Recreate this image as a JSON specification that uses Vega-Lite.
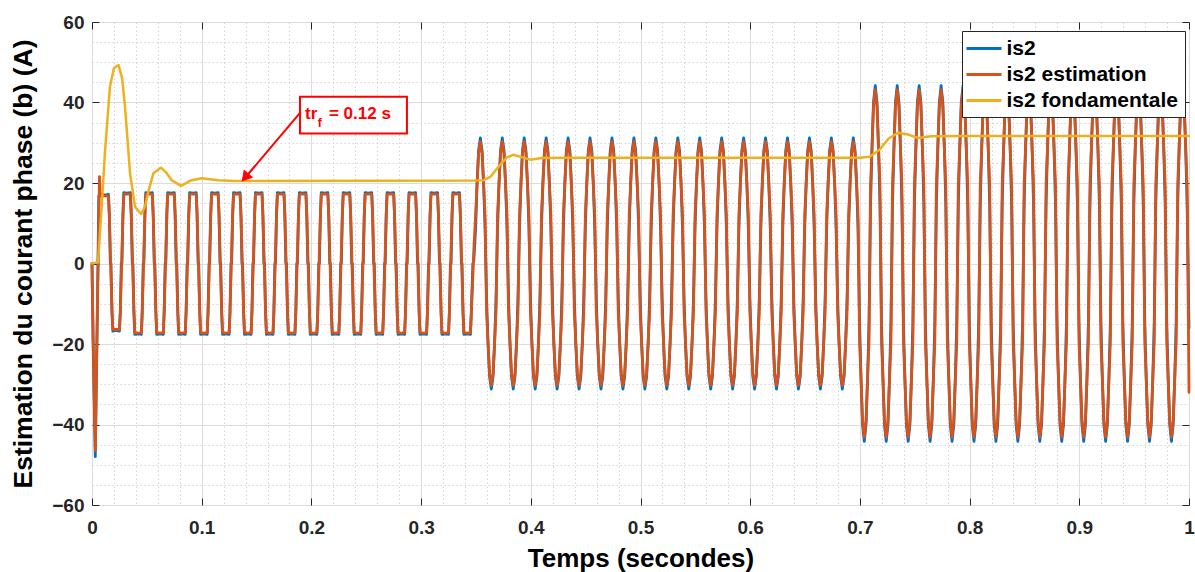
{
"$schema":"https://vega.github.io/schema/vega-lite/v6.json",
"width":1097,"height":483,
"autosize":{"type":"none"},
"padding":{"left":92,"top":22,"right":6,"bottom":67},
"background":"white",
"config":{
 "font":"Liberation Sans",
 "view":{"stroke":"#404040","strokeWidth":1},
 "axis":{"labelFont":"Liberation Sans","titleFont":"Liberation Sans","labelFontWeight":"bold","titleFontWeight":"bold","labelColor":"#262626","titleColor":"#000000","tickColor":"#262626"},
 "legend":{"orient":"none","legendX":870,"legendY":9,"padding":6,"strokeColor":"#262626","fillColor":"white","symbolType":"M-1.75,0H1.75","symbolSize":400,"symbolOffset":4.5,"symbolStrokeWidth":3,"labelFont":"Liberation Sans","labelFontWeight":"bold","labelFontSize":21,"labelColor":"#000000","labelOffset":11,"rowPadding":4,"title":null,"labelLimit":400},
 "line":{"strokeJoin":"round","strokeCap":"round"}
},
"datasets":{
"w":[
{"t":0,"a":0,"b":0},{"t":0.001,"a":-20,"b":-18},{"t":0.003,"a":-48,"b":-46.5},{"t":0.0055,"a":0,"b":0},{"t":0.0062,"a":16.8,"b":10},{"t":0.0068,"a":17,"b":21.6},{"t":0.0076,"a":17.2,"b":16.8},
{"t":0.009,"a":17.2,"b":16.8},{"t":0.012,"a":17,"b":16.8},{"t":0.015,"a":17.2,"b":16.8},{"t":0.0158,"a":12,"b":12},{"t":0.0167,"a":0,"b":3},{"t":0.0173,"a":0,"b":-3},{"t":0.0182,"a":-12,"b":-12},{"t":0.019,"a":-16.8,"b":-16.4},{"t":0.022,"a":-16.6,"b":-16.4},{"t":0.025,"a":-16.8,"b":-16.4},{"t":0.0258,"a":-12,"b":-12},{"t":0.0267,"a":0,"b":-3},
{"t":0.0273,"a":0,"b":3},{"t":0.0282,"a":12,"b":12},{"t":0.029,"a":17.6,"b":17.2},{"t":0.032,"a":17.5,"b":17.3},{"t":0.035,"a":17.6,"b":17.2},{"t":0.0358,"a":12,"b":12},{"t":0.0367,"a":0,"b":3},{"t":0.0373,"a":0,"b":-3},{"t":0.0382,"a":-12,"b":-12},{"t":0.039,"a":-17.6,"b":-17.2},{"t":0.042,"a":-17.5,"b":-17.3},{"t":0.045,"a":-17.6,"b":-17.2},{"t":0.0458,"a":-12,"b":-12},{"t":0.0467,"a":0,"b":-3},
{"t":0.0473,"a":0,"b":3},{"t":0.0482,"a":12,"b":12},{"t":0.049,"a":17.6,"b":17.2},{"t":0.052,"a":17.5,"b":17.3},{"t":0.055,"a":17.6,"b":17.2},{"t":0.0558,"a":12,"b":12},{"t":0.0567,"a":0,"b":3},{"t":0.0573,"a":0,"b":-3},{"t":0.0582,"a":-12,"b":-12},{"t":0.059,"a":-17.6,"b":-17.2},{"t":0.062,"a":-17.5,"b":-17.3},{"t":0.065,"a":-17.6,"b":-17.2},{"t":0.0658,"a":-12,"b":-12},{"t":0.0667,"a":0,"b":-3},
{"t":0.0673,"a":0,"b":3},{"t":0.0682,"a":12,"b":12},{"t":0.069,"a":17.6,"b":17.2},{"t":0.072,"a":17.5,"b":17.3},{"t":0.075,"a":17.6,"b":17.2},{"t":0.0758,"a":12,"b":12},{"t":0.0767,"a":0,"b":3},{"t":0.0773,"a":0,"b":-3},{"t":0.0782,"a":-12,"b":-12},{"t":0.079,"a":-17.6,"b":-17.2},{"t":0.082,"a":-17.5,"b":-17.3},{"t":0.085,"a":-17.6,"b":-17.2},{"t":0.0858,"a":-12,"b":-12},{"t":0.0867,"a":0,"b":-3},
{"t":0.0873,"a":0,"b":3},{"t":0.0882,"a":12,"b":12},{"t":0.089,"a":17.6,"b":17.2},{"t":0.092,"a":17.5,"b":17.3},{"t":0.095,"a":17.6,"b":17.2},{"t":0.0958,"a":12,"b":12},{"t":0.0967,"a":0,"b":3},{"t":0.0973,"a":0,"b":-3},{"t":0.0982,"a":-12,"b":-12},{"t":0.099,"a":-17.6,"b":-17.2},{"t":0.102,"a":-17.5,"b":-17.3},{"t":0.105,"a":-17.6,"b":-17.2},{"t":0.1058,"a":-12,"b":-12},{"t":0.1067,"a":0,"b":-3},
{"t":0.1073,"a":0,"b":3},{"t":0.1082,"a":12,"b":12},{"t":0.109,"a":17.6,"b":17.2},{"t":0.112,"a":17.5,"b":17.3},{"t":0.115,"a":17.6,"b":17.2},{"t":0.1158,"a":12,"b":12},{"t":0.1167,"a":0,"b":3},{"t":0.1173,"a":0,"b":-3},{"t":0.1182,"a":-12,"b":-12},{"t":0.119,"a":-17.6,"b":-17.2},{"t":0.122,"a":-17.5,"b":-17.3},{"t":0.125,"a":-17.6,"b":-17.2},{"t":0.1258,"a":-12,"b":-12},{"t":0.1267,"a":0,"b":-3},
{"t":0.1273,"a":0,"b":3},{"t":0.1282,"a":12,"b":12},{"t":0.129,"a":17.6,"b":17.2},{"t":0.132,"a":17.5,"b":17.3},{"t":0.135,"a":17.6,"b":17.2},{"t":0.1358,"a":12,"b":12},{"t":0.1367,"a":0,"b":3},{"t":0.1373,"a":0,"b":-3},{"t":0.1382,"a":-12,"b":-12},{"t":0.139,"a":-17.6,"b":-17.2},{"t":0.142,"a":-17.5,"b":-17.3},{"t":0.145,"a":-17.6,"b":-17.2},{"t":0.1458,"a":-12,"b":-12},{"t":0.1467,"a":0,"b":-3},
{"t":0.1473,"a":0,"b":3},{"t":0.1482,"a":12,"b":12},{"t":0.149,"a":17.6,"b":17.2},{"t":0.152,"a":17.5,"b":17.3},{"t":0.155,"a":17.6,"b":17.2},{"t":0.1558,"a":12,"b":12},{"t":0.1567,"a":0,"b":3},{"t":0.1573,"a":0,"b":-3},{"t":0.1582,"a":-12,"b":-12},{"t":0.159,"a":-17.6,"b":-17.2},{"t":0.162,"a":-17.5,"b":-17.3},{"t":0.165,"a":-17.6,"b":-17.2},{"t":0.1658,"a":-12,"b":-12},{"t":0.1667,"a":0,"b":-3},
{"t":0.1673,"a":0,"b":3},{"t":0.1682,"a":12,"b":12},{"t":0.169,"a":17.6,"b":17.2},{"t":0.172,"a":17.5,"b":17.3},{"t":0.175,"a":17.6,"b":17.2},{"t":0.1758,"a":12,"b":12},{"t":0.1767,"a":0,"b":3},{"t":0.1773,"a":0,"b":-3},{"t":0.1782,"a":-12,"b":-12},{"t":0.179,"a":-17.6,"b":-17.2},{"t":0.182,"a":-17.5,"b":-17.3},{"t":0.185,"a":-17.6,"b":-17.2},{"t":0.1858,"a":-12,"b":-12},{"t":0.1867,"a":0,"b":-3},
{"t":0.1873,"a":0,"b":3},{"t":0.1882,"a":12,"b":12},{"t":0.189,"a":17.6,"b":17.2},{"t":0.192,"a":17.5,"b":17.3},{"t":0.195,"a":17.6,"b":17.2},{"t":0.1958,"a":12,"b":12},{"t":0.1967,"a":0,"b":3},{"t":0.1973,"a":0,"b":-3},{"t":0.1982,"a":-12,"b":-12},{"t":0.199,"a":-17.6,"b":-17.2},{"t":0.202,"a":-17.5,"b":-17.3},{"t":0.205,"a":-17.6,"b":-17.2},{"t":0.2058,"a":-12,"b":-12},{"t":0.2067,"a":0,"b":-3},
{"t":0.2073,"a":0,"b":3},{"t":0.2082,"a":12,"b":12},{"t":0.209,"a":17.6,"b":17.2},{"t":0.212,"a":17.5,"b":17.3},{"t":0.215,"a":17.6,"b":17.2},{"t":0.2158,"a":12,"b":12},{"t":0.2167,"a":0,"b":3},{"t":0.2173,"a":0,"b":-3},{"t":0.2182,"a":-12,"b":-12},{"t":0.219,"a":-17.6,"b":-17.2},{"t":0.222,"a":-17.5,"b":-17.3},{"t":0.225,"a":-17.6,"b":-17.2},{"t":0.2258,"a":-12,"b":-12},{"t":0.2267,"a":0,"b":-3},
{"t":0.2273,"a":0,"b":3},{"t":0.2282,"a":12,"b":12},{"t":0.229,"a":17.6,"b":17.2},{"t":0.232,"a":17.5,"b":17.3},{"t":0.235,"a":17.6,"b":17.2},{"t":0.2358,"a":12,"b":12},{"t":0.2367,"a":0,"b":3},{"t":0.2373,"a":0,"b":-3},{"t":0.2382,"a":-12,"b":-12},{"t":0.239,"a":-17.6,"b":-17.2},{"t":0.242,"a":-17.5,"b":-17.3},{"t":0.245,"a":-17.6,"b":-17.2},{"t":0.2458,"a":-12,"b":-12},{"t":0.2467,"a":0,"b":-3},
{"t":0.2473,"a":0,"b":3},{"t":0.2482,"a":12,"b":12},{"t":0.249,"a":17.6,"b":17.2},{"t":0.252,"a":17.5,"b":17.3},{"t":0.255,"a":17.6,"b":17.2},{"t":0.2558,"a":12,"b":12},{"t":0.2567,"a":0,"b":3},{"t":0.2573,"a":0,"b":-3},{"t":0.2582,"a":-12,"b":-12},{"t":0.259,"a":-17.6,"b":-17.2},{"t":0.262,"a":-17.5,"b":-17.3},{"t":0.265,"a":-17.6,"b":-17.2},{"t":0.2658,"a":-12,"b":-12},{"t":0.2667,"a":0,"b":-3},
{"t":0.2673,"a":0,"b":3},{"t":0.2682,"a":12,"b":12},{"t":0.269,"a":17.6,"b":17.2},{"t":0.272,"a":17.5,"b":17.3},{"t":0.275,"a":17.6,"b":17.2},{"t":0.2758,"a":12,"b":12},{"t":0.2767,"a":0,"b":3},{"t":0.2773,"a":0,"b":-3},{"t":0.2782,"a":-12,"b":-12},{"t":0.279,"a":-17.6,"b":-17.2},{"t":0.282,"a":-17.5,"b":-17.3},{"t":0.285,"a":-17.6,"b":-17.2},{"t":0.2858,"a":-12,"b":-12},{"t":0.2867,"a":0,"b":-3},
{"t":0.2873,"a":0,"b":3},{"t":0.2882,"a":12,"b":12},{"t":0.289,"a":17.6,"b":17.2},{"t":0.292,"a":17.5,"b":17.3},{"t":0.295,"a":17.6,"b":17.2},{"t":0.2958,"a":12,"b":12},{"t":0.2967,"a":0,"b":3},{"t":0.2973,"a":0,"b":-3},{"t":0.2982,"a":-12,"b":-12},{"t":0.299,"a":-17.6,"b":-17.2},{"t":0.302,"a":-17.5,"b":-17.3},{"t":0.305,"a":-17.6,"b":-17.2},{"t":0.3058,"a":-12,"b":-12},{"t":0.3067,"a":0,"b":-3},
{"t":0.3073,"a":0,"b":3},{"t":0.3082,"a":12,"b":12},{"t":0.309,"a":17.6,"b":17.2},{"t":0.312,"a":17.5,"b":17.3},{"t":0.315,"a":17.6,"b":17.2},{"t":0.3158,"a":12,"b":12},{"t":0.3167,"a":0,"b":3},{"t":0.3173,"a":0,"b":-3},{"t":0.3182,"a":-12,"b":-12},{"t":0.319,"a":-17.6,"b":-17.2},{"t":0.322,"a":-17.5,"b":-17.3},{"t":0.325,"a":-17.6,"b":-17.2},{"t":0.3258,"a":-12,"b":-12},{"t":0.3267,"a":0,"b":-3},
{"t":0.3273,"a":0,"b":3},{"t":0.3282,"a":12,"b":12},{"t":0.329,"a":17.6,"b":17.2},{"t":0.332,"a":17.5,"b":17.3},{"t":0.335,"a":17.6,"b":17.2},{"t":0.3358,"a":12,"b":12},{"t":0.3367,"a":0,"b":3},{"t":0.3373,"a":0,"b":-3},{"t":0.3382,"a":-12,"b":-12},{"t":0.339,"a":-17.6,"b":-17.2},{"t":0.342,"a":-17.5,"b":-17.3},{"t":0.345,"a":-17.6,"b":-17.2},{"t":0.3458,"a":-12,"b":-12},{"t":0.3472,"a":0,"b":-3},{"t":0.348,"a":0.5,"b":3},
{"t":0.3497,"a":8.7,"b":12.1},{"t":0.351,"a":19.8,"b":19.5},{"t":0.3524,"a":28,"b":27.3},{"t":0.354,"a":31.2,"b":30.3},
{"t":0.3556,"a":28,"b":27.3},{"t":0.357,"a":19.8,"b":19.5},{"t":0.3583,"a":8.7,"b":12.1},{"t":0.3597,"a":-8.7,"b":-12.1},{"t":0.361,"a":-19.8,"b":-19.5},{"t":0.3624,"a":-28,"b":-27.3},{"t":0.364,"a":-31.2,"b":-30.3},{"t":0.3656,"a":-28,"b":-27.3},{"t":0.367,"a":-19.8,"b":-19.5},{"t":0.3683,"a":-8.7,"b":-12.1},{"t":0.3697,"a":8.7,"b":12.1},{"t":0.371,"a":19.8,"b":19.5},{"t":0.3724,"a":28,"b":27.3},{"t":0.374,"a":31.2,"b":30.3},
{"t":0.3756,"a":28,"b":27.3},{"t":0.377,"a":19.8,"b":19.5},{"t":0.3783,"a":8.7,"b":12.1},{"t":0.3797,"a":-8.7,"b":-12.1},{"t":0.381,"a":-19.8,"b":-19.5},{"t":0.3824,"a":-28,"b":-27.3},{"t":0.384,"a":-31.2,"b":-30.3},{"t":0.3856,"a":-28,"b":-27.3},{"t":0.387,"a":-19.8,"b":-19.5},{"t":0.3883,"a":-8.7,"b":-12.1},{"t":0.3897,"a":8.7,"b":12.1},{"t":0.391,"a":19.8,"b":19.5},{"t":0.3924,"a":28,"b":27.3},{"t":0.394,"a":31.2,"b":30.3},
{"t":0.3956,"a":28,"b":27.3},{"t":0.397,"a":19.8,"b":19.5},{"t":0.3983,"a":8.7,"b":12.1},{"t":0.3997,"a":-8.7,"b":-12.1},{"t":0.401,"a":-19.8,"b":-19.5},{"t":0.4024,"a":-28,"b":-27.3},{"t":0.404,"a":-31.2,"b":-30.3},{"t":0.4056,"a":-28,"b":-27.3},{"t":0.407,"a":-19.8,"b":-19.5},{"t":0.4083,"a":-8.7,"b":-12.1},{"t":0.4097,"a":8.7,"b":12.1},{"t":0.411,"a":19.8,"b":19.5},{"t":0.4124,"a":28,"b":27.3},{"t":0.414,"a":31.2,"b":30.3},
{"t":0.4156,"a":28,"b":27.3},{"t":0.417,"a":19.8,"b":19.5},{"t":0.4183,"a":8.7,"b":12.1},{"t":0.4197,"a":-8.7,"b":-12.1},{"t":0.421,"a":-19.8,"b":-19.5},{"t":0.4224,"a":-28,"b":-27.3},{"t":0.424,"a":-31.2,"b":-30.3},{"t":0.4256,"a":-28,"b":-27.3},{"t":0.427,"a":-19.8,"b":-19.5},{"t":0.4283,"a":-8.7,"b":-12.1},{"t":0.4297,"a":8.7,"b":12.1},{"t":0.431,"a":19.8,"b":19.5},{"t":0.4324,"a":28,"b":27.3},{"t":0.434,"a":31.2,"b":30.3},
{"t":0.4356,"a":28,"b":27.3},{"t":0.437,"a":19.8,"b":19.5},{"t":0.4383,"a":8.7,"b":12.1},{"t":0.4397,"a":-8.7,"b":-12.1},{"t":0.441,"a":-19.8,"b":-19.5},{"t":0.4424,"a":-28,"b":-27.3},{"t":0.444,"a":-31.2,"b":-30.3},{"t":0.4456,"a":-28,"b":-27.3},{"t":0.447,"a":-19.8,"b":-19.5},{"t":0.4483,"a":-8.7,"b":-12.1},{"t":0.4497,"a":8.7,"b":12.1},{"t":0.451,"a":19.8,"b":19.5},{"t":0.4524,"a":28,"b":27.3},{"t":0.454,"a":31.2,"b":30.3},
{"t":0.4556,"a":28,"b":27.3},{"t":0.457,"a":19.8,"b":19.5},{"t":0.4583,"a":8.7,"b":12.1},{"t":0.4597,"a":-8.7,"b":-12.1},{"t":0.461,"a":-19.8,"b":-19.5},{"t":0.4624,"a":-28,"b":-27.3},{"t":0.464,"a":-31.2,"b":-30.3},{"t":0.4656,"a":-28,"b":-27.3},{"t":0.467,"a":-19.8,"b":-19.5},{"t":0.4683,"a":-8.7,"b":-12.1},{"t":0.4697,"a":8.7,"b":12.1},{"t":0.471,"a":19.8,"b":19.5},{"t":0.4724,"a":28,"b":27.3},{"t":0.474,"a":31.2,"b":30.3},
{"t":0.4756,"a":28,"b":27.3},{"t":0.477,"a":19.8,"b":19.5},{"t":0.4783,"a":8.7,"b":12.1},{"t":0.4797,"a":-8.7,"b":-12.1},{"t":0.481,"a":-19.8,"b":-19.5},{"t":0.4824,"a":-28,"b":-27.3},{"t":0.484,"a":-31.2,"b":-30.3},{"t":0.4856,"a":-28,"b":-27.3},{"t":0.487,"a":-19.8,"b":-19.5},{"t":0.4883,"a":-8.7,"b":-12.1},{"t":0.4897,"a":8.7,"b":12.1},{"t":0.491,"a":19.8,"b":19.5},{"t":0.4924,"a":28,"b":27.3},{"t":0.494,"a":31.2,"b":30.3},
{"t":0.4956,"a":28,"b":27.3},{"t":0.497,"a":19.8,"b":19.5},{"t":0.4983,"a":8.7,"b":12.1},{"t":0.4997,"a":-8.7,"b":-12.1},{"t":0.501,"a":-19.8,"b":-19.5},{"t":0.5024,"a":-28,"b":-27.3},{"t":0.504,"a":-31.2,"b":-30.3},{"t":0.5056,"a":-28,"b":-27.3},{"t":0.507,"a":-19.8,"b":-19.5},{"t":0.5083,"a":-8.7,"b":-12.1},{"t":0.5097,"a":8.7,"b":12.1},{"t":0.511,"a":19.8,"b":19.5},{"t":0.5124,"a":28,"b":27.3},{"t":0.514,"a":31.2,"b":30.3},
{"t":0.5156,"a":28,"b":27.3},{"t":0.517,"a":19.8,"b":19.5},{"t":0.5183,"a":8.7,"b":12.1},{"t":0.5197,"a":-8.7,"b":-12.1},{"t":0.521,"a":-19.8,"b":-19.5},{"t":0.5224,"a":-28,"b":-27.3},{"t":0.524,"a":-31.2,"b":-30.3},{"t":0.5256,"a":-28,"b":-27.3},{"t":0.527,"a":-19.8,"b":-19.5},{"t":0.5283,"a":-8.7,"b":-12.1},{"t":0.5297,"a":8.7,"b":12.1},{"t":0.531,"a":19.8,"b":19.5},{"t":0.5324,"a":28,"b":27.3},{"t":0.534,"a":31.2,"b":30.3},
{"t":0.5356,"a":28,"b":27.3},{"t":0.537,"a":19.8,"b":19.5},{"t":0.5383,"a":8.7,"b":12.1},{"t":0.5397,"a":-8.7,"b":-12.1},{"t":0.541,"a":-19.8,"b":-19.5},{"t":0.5424,"a":-28,"b":-27.3},{"t":0.544,"a":-31.2,"b":-30.3},{"t":0.5456,"a":-28,"b":-27.3},{"t":0.547,"a":-19.8,"b":-19.5},{"t":0.5483,"a":-8.7,"b":-12.1},{"t":0.5497,"a":8.7,"b":12.1},{"t":0.551,"a":19.8,"b":19.5},{"t":0.5524,"a":28,"b":27.3},{"t":0.554,"a":31.2,"b":30.3},
{"t":0.5556,"a":28,"b":27.3},{"t":0.557,"a":19.8,"b":19.5},{"t":0.5583,"a":8.7,"b":12.1},{"t":0.5597,"a":-8.7,"b":-12.1},{"t":0.561,"a":-19.8,"b":-19.5},{"t":0.5624,"a":-28,"b":-27.3},{"t":0.564,"a":-31.2,"b":-30.3},{"t":0.5656,"a":-28,"b":-27.3},{"t":0.567,"a":-19.8,"b":-19.5},{"t":0.5683,"a":-8.7,"b":-12.1},{"t":0.5697,"a":8.7,"b":12.1},{"t":0.571,"a":19.8,"b":19.5},{"t":0.5724,"a":28,"b":27.3},{"t":0.574,"a":31.2,"b":30.3},
{"t":0.5756,"a":28,"b":27.3},{"t":0.577,"a":19.8,"b":19.5},{"t":0.5783,"a":8.7,"b":12.1},{"t":0.5797,"a":-8.7,"b":-12.1},{"t":0.581,"a":-19.8,"b":-19.5},{"t":0.5824,"a":-28,"b":-27.3},{"t":0.584,"a":-31.2,"b":-30.3},{"t":0.5856,"a":-28,"b":-27.3},{"t":0.587,"a":-19.8,"b":-19.5},{"t":0.5883,"a":-8.7,"b":-12.1},{"t":0.5897,"a":8.7,"b":12.1},{"t":0.591,"a":19.8,"b":19.5},{"t":0.5924,"a":28,"b":27.3},{"t":0.594,"a":31.2,"b":30.3},
{"t":0.5956,"a":28,"b":27.3},{"t":0.597,"a":19.8,"b":19.5},{"t":0.5983,"a":8.7,"b":12.1},{"t":0.5997,"a":-8.7,"b":-12.1},{"t":0.601,"a":-19.8,"b":-19.5},{"t":0.6024,"a":-28,"b":-27.3},{"t":0.604,"a":-31.2,"b":-30.3},{"t":0.6056,"a":-28,"b":-27.3},{"t":0.607,"a":-19.8,"b":-19.5},{"t":0.6083,"a":-8.7,"b":-12.1},{"t":0.6097,"a":8.7,"b":12.1},{"t":0.611,"a":19.8,"b":19.5},{"t":0.6124,"a":28,"b":27.3},{"t":0.614,"a":31.2,"b":30.3},
{"t":0.6156,"a":28,"b":27.3},{"t":0.617,"a":19.8,"b":19.5},{"t":0.6183,"a":8.7,"b":12.1},{"t":0.6197,"a":-8.7,"b":-12.1},{"t":0.621,"a":-19.8,"b":-19.5},{"t":0.6224,"a":-28,"b":-27.3},{"t":0.624,"a":-31.2,"b":-30.3},{"t":0.6256,"a":-28,"b":-27.3},{"t":0.627,"a":-19.8,"b":-19.5},{"t":0.6283,"a":-8.7,"b":-12.1},{"t":0.6297,"a":8.7,"b":12.1},{"t":0.631,"a":19.8,"b":19.5},{"t":0.6324,"a":28,"b":27.3},{"t":0.634,"a":31.2,"b":30.3},
{"t":0.6356,"a":28,"b":27.3},{"t":0.637,"a":19.8,"b":19.5},{"t":0.6383,"a":8.7,"b":12.1},{"t":0.6397,"a":-8.7,"b":-12.1},{"t":0.641,"a":-19.8,"b":-19.5},{"t":0.6424,"a":-28,"b":-27.3},{"t":0.644,"a":-31.2,"b":-30.3},{"t":0.6456,"a":-28,"b":-27.3},{"t":0.647,"a":-19.8,"b":-19.5},{"t":0.6483,"a":-8.7,"b":-12.1},{"t":0.6497,"a":8.7,"b":12.1},{"t":0.651,"a":19.8,"b":19.5},{"t":0.6524,"a":28,"b":27.3},{"t":0.654,"a":31.2,"b":30.3},
{"t":0.6556,"a":28,"b":27.3},{"t":0.657,"a":19.8,"b":19.5},{"t":0.6583,"a":8.7,"b":12.1},{"t":0.6597,"a":-8.7,"b":-12.1},{"t":0.661,"a":-19.8,"b":-19.5},{"t":0.6624,"a":-28,"b":-27.3},{"t":0.664,"a":-31.2,"b":-30.3},{"t":0.6656,"a":-28,"b":-27.3},{"t":0.667,"a":-19.8,"b":-19.5},{"t":0.6683,"a":-8.7,"b":-12.1},{"t":0.6697,"a":8.7,"b":12.1},{"t":0.671,"a":19.8,"b":19.5},{"t":0.6724,"a":28,"b":27.3},{"t":0.674,"a":31.2,"b":30.3},
{"t":0.6756,"a":28,"b":27.3},{"t":0.677,"a":19.8,"b":19.5},{"t":0.6783,"a":8.7,"b":12.1},{"t":0.6797,"a":-8.7,"b":-12.1},{"t":0.681,"a":-19.8,"b":-19.5},{"t":0.6824,"a":-28,"b":-27.3},{"t":0.684,"a":-31.2,"b":-30.3},{"t":0.6856,"a":-28,"b":-27.3},{"t":0.687,"a":-19.8,"b":-19.5},{"t":0.6883,"a":-8.7,"b":-12.1},{"t":0.6897,"a":8.7,"b":12.1},{"t":0.691,"a":19.8,"b":19.5},{"t":0.6924,"a":28,"b":27.3},{"t":0.694,"a":31.2,"b":30.3},
{"t":0.6956,"a":28,"b":27.3},{"t":0.697,"a":19.8,"b":19.5},{"t":0.6983,"a":8.7,"b":12.1},
{"t":0.6997,"a":-14.5,"b":-19.5},{"t":0.701,"a":-28.5,"b":-28.5},{"t":0.7024,"a":-40,"b":-39},{"t":0.704,"a":-44.2,"b":-43.2},
{"t":0.7056,"a":-40,"b":-39},{"t":0.707,"a":-28.5,"b":-28.5},{"t":0.7083,"a":-14.5,"b":-19.5},{"t":0.7097,"a":14.5,"b":19.5},{"t":0.711,"a":28.5,"b":28.5},{"t":0.7124,"a":40,"b":39},{"t":0.714,"a":44.2,"b":43.2},{"t":0.7156,"a":40,"b":39},{"t":0.717,"a":28.5,"b":28.5},{"t":0.7183,"a":14.5,"b":19.5},{"t":0.7197,"a":-14.5,"b":-19.5},{"t":0.721,"a":-28.5,"b":-28.5},{"t":0.7224,"a":-40,"b":-39},{"t":0.724,"a":-44.2,"b":-43.2},
{"t":0.7256,"a":-40,"b":-39},{"t":0.727,"a":-28.5,"b":-28.5},{"t":0.7283,"a":-14.5,"b":-19.5},{"t":0.7297,"a":14.5,"b":19.5},{"t":0.731,"a":28.5,"b":28.5},{"t":0.7324,"a":40,"b":39},{"t":0.734,"a":44.2,"b":43.2},{"t":0.7356,"a":40,"b":39},{"t":0.737,"a":28.5,"b":28.5},{"t":0.7383,"a":14.5,"b":19.5},{"t":0.7397,"a":-14.5,"b":-19.5},{"t":0.741,"a":-28.5,"b":-28.5},{"t":0.7424,"a":-40,"b":-39},{"t":0.744,"a":-44.2,"b":-43.2},
{"t":0.7456,"a":-40,"b":-39},{"t":0.747,"a":-28.5,"b":-28.5},{"t":0.7483,"a":-14.5,"b":-19.5},{"t":0.7497,"a":14.5,"b":19.5},{"t":0.751,"a":28.5,"b":28.5},{"t":0.7524,"a":40,"b":39},{"t":0.754,"a":44.2,"b":43.2},{"t":0.7556,"a":40,"b":39},{"t":0.757,"a":28.5,"b":28.5},{"t":0.7583,"a":14.5,"b":19.5},{"t":0.7597,"a":-14.5,"b":-19.5},{"t":0.761,"a":-28.5,"b":-28.5},{"t":0.7624,"a":-40,"b":-39},{"t":0.764,"a":-44.2,"b":-43.2},
{"t":0.7656,"a":-40,"b":-39},{"t":0.767,"a":-28.5,"b":-28.5},{"t":0.7683,"a":-14.5,"b":-19.5},{"t":0.7697,"a":14.5,"b":19.5},{"t":0.771,"a":28.5,"b":28.5},{"t":0.7724,"a":40,"b":39},{"t":0.774,"a":44.2,"b":43.2},{"t":0.7756,"a":40,"b":39},{"t":0.777,"a":28.5,"b":28.5},{"t":0.7783,"a":14.5,"b":19.5},{"t":0.7797,"a":-14.5,"b":-19.5},{"t":0.781,"a":-28.5,"b":-28.5},{"t":0.7824,"a":-40,"b":-39},{"t":0.784,"a":-44.2,"b":-43.2},
{"t":0.7856,"a":-40,"b":-39},{"t":0.787,"a":-28.5,"b":-28.5},{"t":0.7883,"a":-14.5,"b":-19.5},{"t":0.7897,"a":14.5,"b":19.5},{"t":0.791,"a":28.5,"b":28.5},{"t":0.7924,"a":40,"b":39},{"t":0.794,"a":44.2,"b":43.2},{"t":0.7956,"a":40,"b":39},{"t":0.797,"a":28.5,"b":28.5},{"t":0.7983,"a":14.5,"b":19.5},{"t":0.7997,"a":-14.5,"b":-19.5},{"t":0.801,"a":-28.5,"b":-28.5},{"t":0.8024,"a":-40,"b":-39},{"t":0.804,"a":-44.2,"b":-43.2},
{"t":0.8056,"a":-40,"b":-39},{"t":0.807,"a":-28.5,"b":-28.5},{"t":0.8083,"a":-14.5,"b":-19.5},{"t":0.8097,"a":14.5,"b":19.5},{"t":0.811,"a":28.5,"b":28.5},{"t":0.8124,"a":40,"b":39},{"t":0.814,"a":44.2,"b":43.2},{"t":0.8156,"a":40,"b":39},{"t":0.817,"a":28.5,"b":28.5},{"t":0.8183,"a":14.5,"b":19.5},{"t":0.8197,"a":-14.5,"b":-19.5},{"t":0.821,"a":-28.5,"b":-28.5},{"t":0.8224,"a":-40,"b":-39},{"t":0.824,"a":-44.2,"b":-43.2},
{"t":0.8256,"a":-40,"b":-39},{"t":0.827,"a":-28.5,"b":-28.5},{"t":0.8283,"a":-14.5,"b":-19.5},{"t":0.8297,"a":14.5,"b":19.5},{"t":0.831,"a":28.5,"b":28.5},{"t":0.8324,"a":40,"b":39},{"t":0.834,"a":44.2,"b":43.2},{"t":0.8356,"a":40,"b":39},{"t":0.837,"a":28.5,"b":28.5},{"t":0.8383,"a":14.5,"b":19.5},{"t":0.8397,"a":-14.5,"b":-19.5},{"t":0.841,"a":-28.5,"b":-28.5},{"t":0.8424,"a":-40,"b":-39},{"t":0.844,"a":-44.2,"b":-43.2},
{"t":0.8456,"a":-40,"b":-39},{"t":0.847,"a":-28.5,"b":-28.5},{"t":0.8483,"a":-14.5,"b":-19.5},{"t":0.8497,"a":14.5,"b":19.5},{"t":0.851,"a":28.5,"b":28.5},{"t":0.8524,"a":40,"b":39},{"t":0.854,"a":44.2,"b":43.2},{"t":0.8556,"a":40,"b":39},{"t":0.857,"a":28.5,"b":28.5},{"t":0.8583,"a":14.5,"b":19.5},{"t":0.8597,"a":-14.5,"b":-19.5},{"t":0.861,"a":-28.5,"b":-28.5},{"t":0.8624,"a":-40,"b":-39},{"t":0.864,"a":-44.2,"b":-43.2},
{"t":0.8656,"a":-40,"b":-39},{"t":0.867,"a":-28.5,"b":-28.5},{"t":0.8683,"a":-14.5,"b":-19.5},{"t":0.8697,"a":14.5,"b":19.5},{"t":0.871,"a":28.5,"b":28.5},{"t":0.8724,"a":40,"b":39},{"t":0.874,"a":44.2,"b":43.2},{"t":0.8756,"a":40,"b":39},{"t":0.877,"a":28.5,"b":28.5},{"t":0.8783,"a":14.5,"b":19.5},{"t":0.8797,"a":-14.5,"b":-19.5},{"t":0.881,"a":-28.5,"b":-28.5},{"t":0.8824,"a":-40,"b":-39},{"t":0.884,"a":-44.2,"b":-43.2},
{"t":0.8856,"a":-40,"b":-39},{"t":0.887,"a":-28.5,"b":-28.5},{"t":0.8883,"a":-14.5,"b":-19.5},{"t":0.8897,"a":14.5,"b":19.5},{"t":0.891,"a":28.5,"b":28.5},{"t":0.8924,"a":40,"b":39},{"t":0.894,"a":44.2,"b":43.2},{"t":0.8956,"a":40,"b":39},{"t":0.897,"a":28.5,"b":28.5},{"t":0.8983,"a":14.5,"b":19.5},{"t":0.8997,"a":-14.5,"b":-19.5},{"t":0.901,"a":-28.5,"b":-28.5},{"t":0.9024,"a":-40,"b":-39},{"t":0.904,"a":-44.2,"b":-43.2},
{"t":0.9056,"a":-40,"b":-39},{"t":0.907,"a":-28.5,"b":-28.5},{"t":0.9083,"a":-14.5,"b":-19.5},{"t":0.9097,"a":14.5,"b":19.5},{"t":0.911,"a":28.5,"b":28.5},{"t":0.9124,"a":40,"b":39},{"t":0.914,"a":44.2,"b":43.2},{"t":0.9156,"a":40,"b":39},{"t":0.917,"a":28.5,"b":28.5},{"t":0.9183,"a":14.5,"b":19.5},{"t":0.9197,"a":-14.5,"b":-19.5},{"t":0.921,"a":-28.5,"b":-28.5},{"t":0.9224,"a":-40,"b":-39},{"t":0.924,"a":-44.2,"b":-43.2},
{"t":0.9256,"a":-40,"b":-39},{"t":0.927,"a":-28.5,"b":-28.5},{"t":0.9283,"a":-14.5,"b":-19.5},{"t":0.9297,"a":14.5,"b":19.5},{"t":0.931,"a":28.5,"b":28.5},{"t":0.9324,"a":40,"b":39},{"t":0.934,"a":44.2,"b":43.2},{"t":0.9356,"a":40,"b":39},{"t":0.937,"a":28.5,"b":28.5},{"t":0.9383,"a":14.5,"b":19.5},{"t":0.9397,"a":-14.5,"b":-19.5},{"t":0.941,"a":-28.5,"b":-28.5},{"t":0.9424,"a":-40,"b":-39},{"t":0.944,"a":-44.2,"b":-43.2},
{"t":0.9456,"a":-40,"b":-39},{"t":0.947,"a":-28.5,"b":-28.5},{"t":0.9483,"a":-14.5,"b":-19.5},{"t":0.9497,"a":14.5,"b":19.5},{"t":0.951,"a":28.5,"b":28.5},{"t":0.9524,"a":40,"b":39},{"t":0.954,"a":44.2,"b":43.2},{"t":0.9556,"a":40,"b":39},{"t":0.957,"a":28.5,"b":28.5},{"t":0.9583,"a":14.5,"b":19.5},{"t":0.9597,"a":-14.5,"b":-19.5},{"t":0.961,"a":-28.5,"b":-28.5},{"t":0.9624,"a":-40,"b":-39},{"t":0.964,"a":-44.2,"b":-43.2},
{"t":0.9656,"a":-40,"b":-39},{"t":0.967,"a":-28.5,"b":-28.5},{"t":0.9683,"a":-14.5,"b":-19.5},{"t":0.9697,"a":14.5,"b":19.5},{"t":0.971,"a":28.5,"b":28.5},{"t":0.9724,"a":40,"b":39},{"t":0.974,"a":44.2,"b":43.2},{"t":0.9756,"a":40,"b":39},{"t":0.977,"a":28.5,"b":28.5},{"t":0.9783,"a":14.5,"b":19.5},{"t":0.9797,"a":-14.5,"b":-19.5},{"t":0.981,"a":-28.5,"b":-28.5},{"t":0.9824,"a":-40,"b":-39},{"t":0.984,"a":-44.2,"b":-43.2},
{"t":0.9856,"a":-40,"b":-39},{"t":0.987,"a":-28.5,"b":-28.5},{"t":0.9883,"a":-14.5,"b":-19.5},{"t":0.9897,"a":14.5,"b":19.5},{"t":0.991,"a":28.5,"b":28.5},{"t":0.9924,"a":40,"b":39},{"t":0.994,"a":44.2,"b":43.2},{"t":0.9956,"a":40,"b":39},{"t":0.997,"a":28.5,"b":28.5},{"t":0.9983,"a":14.5,"b":19.5},{"t":1,"a":-16,"b":-32}
],
"f":[
{"t":0,"v":0},{"t":0.0055,"v":0.3},{"t":0.0088,"v":14},{"t":0.0119,"v":28},{"t":0.0164,"v":44},{"t":0.02,"v":48.5},{"t":0.0242,"v":49.3},{"t":0.0275,"v":46},{"t":0.0301,"v":39},{"t":0.0347,"v":22.4},{"t":0.0392,"v":14.1},{"t":0.0447,"v":12.3},{"t":0.0485,"v":14.2},{"t":0.0513,"v":17.8},{"t":0.0559,"v":22.4},{"t":0.0629,"v":23.8},{"t":0.068,"v":22.5},{"t":0.0726,"v":20.7},{"t":0.0811,"v":19.3},{"t":0.0908,"v":20.7},{"t":0.1,"v":21.2},{"t":0.115,"v":20.7},{"t":0.13,"v":20.5},{"t":0.35,"v":20.6},{"t":0.357,"v":20.7},{"t":0.363,"v":21.5},{"t":0.372,"v":24.5},{"t":0.378,"v":26.3},{"t":0.384,"v":27},{"t":0.391,"v":26.5},{"t":0.3995,"v":25.8},{"t":0.41,"v":26.2},{"t":0.43,"v":26.3},{"t":0.7,"v":26.3},{"t":0.709,"v":26.5},{"t":0.718,"v":28.3},{"t":0.726,"v":31},{"t":0.735,"v":32.5},{"t":0.743,"v":32.1},{"t":0.753,"v":31.2},{"t":0.765,"v":31.6},{"t":0.8,"v":31.7},{"t":1,"v":31.7}
]
},
"layer":[
{"data":{"name":"w"},"mark":{"type":"line","strokeWidth":2.8},
 "encoding":{
  "x":{"field":"t","type":"quantitative","scale":{"domain":[0,1],"nice":false,"zero":false},
   "axis":{"orient":"bottom","values":[0.02,0.04,0.06,0.08,0.12,0.14,0.16,0.18,0.22,0.24,0.26,0.28,0.32,0.34,0.36,0.38,0.42,0.44,0.46,0.48,0.52,0.54,0.56,0.58,0.62,0.64,0.66,0.68,0.72,0.74,0.76,0.78,0.82,0.84,0.86,0.88,0.92,0.94,0.96,0.98],"grid":true,"gridDash":[1.5,2.5],"gridColor":"#d4d4d4","labels":false,"ticks":false,"domain":false,"title":null}},
  "y":{"field":"a","type":"quantitative","scale":{"domain":[-60,60],"nice":false,"zero":false},
   "axis":{"orient":"left","values":[-55,-50,-45,-35,-30,-25,-15,-10,-5,5,10,15,25,30,35,45,50,55],"grid":true,"gridDash":[1.5,2.5],"gridColor":"#d4d4d4","labels":false,"ticks":false,"domain":false,"title":null}},
  "color":{"datum":"is2","scale":{"domain":["is2","is2 estimation","is2 fondamentale"],"range":["#0072BD","#D95319","#EDB120"]}}
 }},
{"data":{"name":"w"},"mark":{"type":"line","strokeWidth":2.8},
 "encoding":{
  "x":{"field":"t","type":"quantitative","scale":{"domain":[0,1],"nice":false,"zero":false},
   "axis":{"orient":"bottom","values":[0,0.1,0.2,0.3,0.4,0.5,0.6,0.7,0.8,0.9,1],"format":"~g","grid":true,"gridColor":"#dcdcdc","labelFontSize":19,"labelPadding":13,"labelFlush":false,"ticks":false,"domain":false,"title":"Temps (secondes)","titleFontSize":26,"titleY":40}},
  "y":{"field":"b","type":"quantitative","scale":{"domain":[-60,60],"nice":false,"zero":false},
   "axis":{"orient":"left","values":[-60,-40,-20,0,20,40,60],"format":"d","grid":true,"gridColor":"#dcdcdc","labelFontSize":19,"labelPadding":8,"labelFlush":false,"ticks":false,"domain":false,"title":"Estimation du courant phase (b) (A)","titleFontSize":26.5,"titleX":-55,"titleY":241.5}},
  "color":{"datum":"is2 estimation","scale":{"domain":["is2","is2 estimation","is2 fondamentale"],"range":["#0072BD","#D95319","#EDB120"]}}
 }},
{"data":{"name":"f"},"mark":{"type":"line","strokeWidth":2.5},
 "encoding":{
  "x":{"field":"t","type":"quantitative","scale":{"domain":[0,1],"nice":false,"zero":false},
   "axis":{"orient":"top","values":[0,0.1,0.2,0.3,0.4,0.5,0.6,0.7,0.8,0.9,1],"grid":false,"labels":false,"ticks":true,"tickSize":-7,"domain":false,"title":null}},
  "y":{"field":"v","type":"quantitative","scale":{"domain":[-60,60],"nice":false,"zero":false},
   "axis":{"orient":"right","values":[-60,-40,-20,0,20,40,60],"grid":false,"labels":false,"ticks":true,"tickSize":-7,"domain":false,"title":null}},
  "color":{"datum":"is2 fondamentale","scale":{"domain":["is2","is2 estimation","is2 fondamentale"],"range":["#0072BD","#D95319","#EDB120"]}}
 }},
{"data":{"values":[{"x1":0.1896,"x2":0.2871,"y1":32.3,"y2":41.4}]},"mark":{"type":"rect","fill":"white","stroke":"#ff0000","strokeWidth":2},
 "encoding":{
  "x":{"field":"x1","type":"quantitative","scale":{"domain":[0,1],"nice":false,"zero":false},
   "axis":{"orient":"bottom","values":[0,0.1,0.2,0.3,0.4,0.5,0.6,0.7,0.8,0.9,1],"grid":false,"labels":false,"ticks":true,"tickSize":-7,"domain":false,"title":null}},
  "x2":{"field":"x2"},
  "y":{"field":"y1","type":"quantitative","scale":{"domain":[-60,60],"nice":false,"zero":false},
   "axis":{"orient":"left","values":[-60,-40,-20,0,20,40,60],"grid":false,"labels":false,"ticks":true,"tickSize":-7,"domain":false,"title":null}},
  "y2":{"field":"y2"}
 }},
{"data":{"values":[{"x1":0.1896,"y1":37.4,"x2":0.1395,"y2":21.3}]},"mark":{"type":"rule","stroke":"#ff0000","strokeWidth":2},
 "encoding":{
  "x":{"field":"x1","type":"quantitative","scale":{"domain":[0,1],"nice":false,"zero":false},"axis":null},
  "y":{"field":"y1","type":"quantitative","scale":{"domain":[-60,60],"nice":false,"zero":false},"axis":null},
  "x2":{"field":"x2"},"y2":{"field":"y2"}
 }},
{"data":{"values":[{"x":0.1397,"y":21.4}]},"mark":{"type":"point","shape":"triangle-up","filled":true,"fill":"#ff0000","stroke":"#ff0000","strokeWidth":1,"opacity":1,"size":110,"angle":220.5},
 "encoding":{
  "x":{"field":"x","type":"quantitative","scale":{"domain":[0,1],"nice":false,"zero":false},"axis":null},
  "y":{"field":"y","type":"quantitative","scale":{"domain":[-60,60],"nice":false,"zero":false},"axis":null}
 }},
{"data":{"values":[{"x":0.1942,"y":36.0,"txt":"tr"},{"x":0.216,"y":36.0,"txt":"= 0.12 s"}]},"mark":{"type":"text","font":"Liberation Sans","fontWeight":"bold","fontSize":17,"fill":"#ff0000","align":"left","baseline":"alphabetic"},
 "encoding":{
  "x":{"field":"x","type":"quantitative","scale":{"domain":[0,1],"nice":false,"zero":false},"axis":null},
  "y":{"field":"y","type":"quantitative","scale":{"domain":[-60,60],"nice":false,"zero":false},"axis":null},
  "text":{"field":"txt"}
 }},
{"data":{"values":[{"x":0.2058,"y":33.9,"txt":"f"}]},"mark":{"type":"text","font":"Liberation Sans","fontWeight":"bold","fontSize":12,"fill":"#ff0000","align":"left","baseline":"alphabetic"},
 "encoding":{
  "x":{"field":"x","type":"quantitative","scale":{"domain":[0,1],"nice":false,"zero":false},"axis":null},
  "y":{"field":"y","type":"quantitative","scale":{"domain":[-60,60],"nice":false,"zero":false},"axis":null},
  "text":{"field":"txt"}
 }}
],
"resolve":{"axis":{"x":"independent","y":"independent"}}
}
